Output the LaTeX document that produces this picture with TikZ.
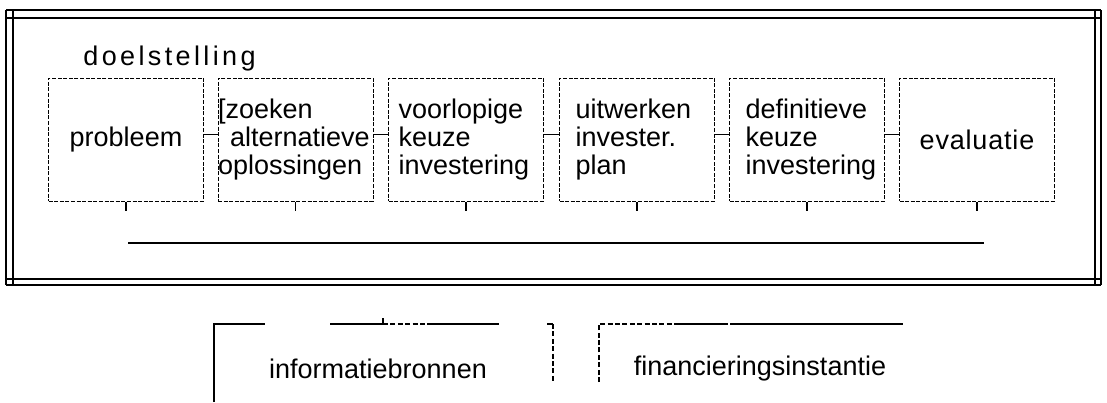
\documentclass[tikz,border=0pt]{standalone}
\usepackage{fontspec}
\setmainfont{Liberation Sans}

\begin{document}
\begin{tikzpicture}[x=0.5pt,y=-0.5pt,
  tekst/.style={font=\fontsize{13.5}{14}\selectfont},
  fase/.style={tekst,draw,dash pattern=on 2pt off 0.8pt,line width=0.5pt,
    minimum width=77.5pt,minimum height=61.5pt,inner xsep=8pt,inner ysep=0pt,
    text width=61.5pt,align=left},
  verbinding/.style={line width=0.6pt},
  kader/.style={line width=1.3pt},
  streep/.style={line width=0.6pt,dash pattern=on 2.5pt off 1.2pt}]
\useasboundingbox (0,0) rectangle (1107,402);
% dubbele rand
\draw[kader] (6,10) -- (6,285);
\draw[kader] (13,10) -- (13,285);
\draw[kader] (1095,10) -- (1095,285);
\draw[kader] (1101,10) -- (1101,285);
\draw[kader] (6,10) -- (1101,10);
\draw[kader] (6,18) -- (1101,18);
\draw[kader] (6,279) -- (1101,279);
\draw[kader] (6,285) -- (1101,285);
\node[tekst,anchor=base west,inner sep=0pt,font=\fontsize{13.5}{14}\selectfont\addfontfeature{LetterSpace=12.5}] (doel) at (83,65) {doelstelling};
% fasen
\node[fase,align=center] (probleem) at (126,139.5) {probleem};
\node[fase,inner xsep=0pt,text width=77.5pt] (zoeken) at (295.5,139.5) {[zoeken\\\hspace{6pt}alternatieve\\oplossingen};
\node[fase,inner xsep=5pt,text width=67.5pt] (voorlopig) at (466,139.5) {voorlopige\\keuze\\investering};
\node[fase] (uitwerken) at (637,139.5) {uitwerken\\invester.\\plan};
\node[fase] (definitief) at (807,139.5) {definitieve\\keuze\\investering};
\node[fase,align=center,font=\fontsize{13.5}{14}\selectfont\addfontfeature{LetterSpace=3}] (evaluatie) at (977,139.5) {evaluatie};
\draw[verbinding] ([yshift=2.5pt]probleem.east) -- ([yshift=2.5pt]zoeken.west);
\draw[verbinding] ([yshift=2.5pt]zoeken.east) -- ([yshift=2.5pt]voorlopig.west);
\draw[verbinding] ([yshift=2.5pt]voorlopig.east) -- ([yshift=2.5pt]uitwerken.west);
\draw[verbinding] ([yshift=2.5pt]uitwerken.east) -- ([yshift=2.5pt]definitief.west);
\draw[verbinding] ([yshift=2.5pt]definitief.east) -- ([yshift=2.5pt]evaluatie.west);
\draw[verbinding] (probleem.south) -- ++(0,9);
\draw[verbinding] (zoeken.south) -- ++(0,9);
\draw[verbinding] (voorlopig.south) -- ++(0,9);
\draw[verbinding] (uitwerken.south) -- ++(0,9);
\draw[verbinding] (definitief.south) -- ++(0,9);
\draw[verbinding] (evaluatie.south) -- ++(0,9);
\draw[line width=1pt] (128,243) -- (984,243);
% onderaan
\node[tekst] (info) at (378,369) {informatiebronnen};
\node[tekst] (financ) at (760,369) {financieringsinstantie};
\draw[line width=1pt] (214,402) -- (214,324) -- (265,324);
\draw[line width=1pt] (330,324) -- (383,324);
\draw[verbinding] (383,318) -- (383,324);
\draw[streep] (383,324) -- (428,324);
\draw[line width=1pt] (428,324) -- (499,324);
\draw[verbinding] (547,324) -- (553,324);
\draw[streep] (553,324) -- (553,382);
\draw[streep] (599,382) -- (599,324) -- (678,324);
\draw[line width=1pt] (678,324) -- (723,324);
\draw[streep] (723,324) -- (733,324);
\draw[line width=1pt] (733,324) -- (903,324);
\end{tikzpicture}
\end{document}
